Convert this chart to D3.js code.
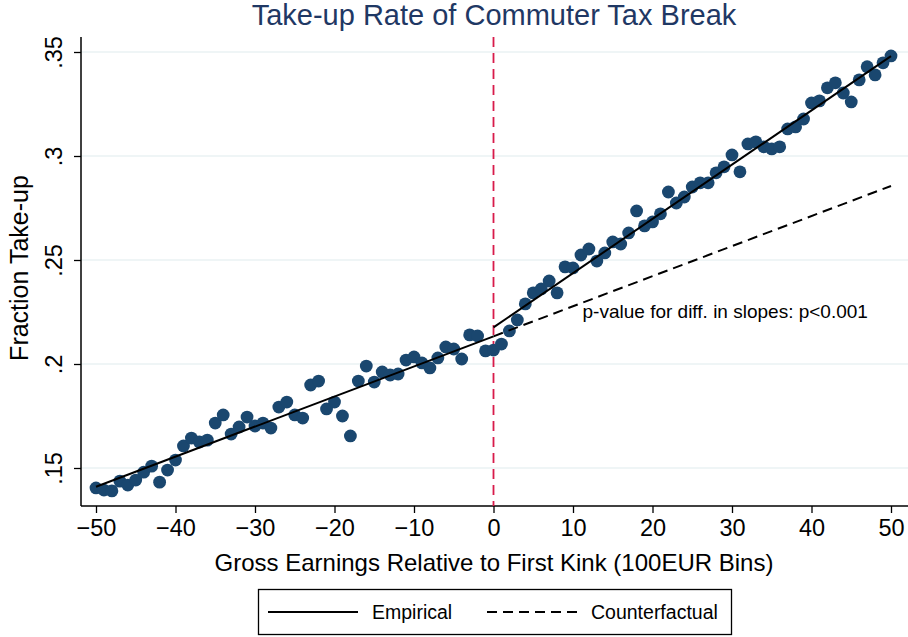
<!DOCTYPE html>
<html>
<head>
<meta charset="utf-8">
<script src="https://d3js.org/d3.v7.min.js"></script>
<style>
  body { margin: 0; background: #fff; }
  text { font-family: "Liberation Sans", Arial, sans-serif; }
</style>
</head>
<body>
<div id="viz"></div>
<script>
/* Take-up rate around the first kink, binned scatter with linear fits */

var bins = d3.range(-50, 51),
    takeup = [
      .1404, .1394, .1390, .1437, .1418, .1442, .1480, .1509, .1432, .1490,
      .1538, .1606, .1644, .1625, .1634, .1716, .1755, .1663, .1697, .1745,
      .1702, .1716, .1692, .1793, .1817, .1755, .1740, .1899, .1918, .1784,
      .1817, .1750, .1654, .1918, .1990, .1913, .1962, .1947, .1952, .2019,
      .2034, .2005, .1981, .2029, .2082, .2072, .2024, .2140, .2135, .2063,
      .2067, .2096, .2159, .2212, .2289, .2342, .2361, .2399, .2342, .2467,
      .2462, .2524, .2553, .2495, .2534, .2587, .2577, .2630, .2736, .2664,
      .2683, .2722, .2827, .2774, .2803, .2851, .2871, .2871, .2919, .2948,
      .3005, .2924, .3058, .3068, .3044, .3034, .3044, .3130, .3140, .3178,
      .3255, .3265, .3328, .3352, .3303, .3260, .3366, .3429, .3390, .3448,
      .3481
    ],
    fitLeft = [[-50, .1410], [0, .2133]],
    fitRight = [[0, .2176], [50, .3480]],
    counterfactual = [[0, .2133], [50, .2856]],
    xTicks = [-50, -40, -30, -20, -10, 0, 10, 20, 30, 40, 50],
    yTicks = [.15, .2, .25, .3, .35],
    legendKeys = ["Empirical", "Counterfactual"];

var width = 908, height = 637,
    plot = { left: 81, right: 908, top: 37, bottom: 506 };

var svg = d3.select("#viz").append("svg")
    .attr("width", width)
    .attr("height", height);

var x = d3.scaleLinear().domain([-50, 50]).range([96, 891]);
var y = d3.scaleLinear().domain([.15, .35]).range([468, 52]);

// grid
svg.append("g")
  .selectAll("line")
  .data(yTicks)
  .enter().append("line")
    .attr("x1", plot.left)
    .attr("x2", plot.right)
    .attr("y1", function(d) { return y(d); })
    .attr("y2", function(d) { return y(d); })
    .attr("stroke", "#eaf2f3")
    .attr("stroke-width", 1.5);

// title
svg.append("text")
  .attr("x", 494)
  .attr("y", 25)
  .attr("text-anchor", "middle")
  .attr("font-size", 29)
  .attr("fill", "#1f3864")
  .text("Take-up Rate of Commuter Tax Break");

// axes
var xAxis = svg.append("g")
  .attr("transform", "translate(0," + plot.bottom + ")")
  .call(d3.axisBottom(x).tickValues(xTicks).tickSize(7).tickSizeOuter(0));
xAxis.select(".domain").attr("d", "M" + plot.left + ",0H" + plot.right).attr("stroke-width", 1.5);
xAxis.selectAll(".tick line").attr("stroke-width", 1.3);
xAxis.selectAll(".tick text")
  .attr("font-size", 23.5)
  .attr("font-family", "Liberation Sans, Arial, sans-serif")
  .attr("y", 13);

var yAxis = svg.append("g")
  .attr("transform", "translate(" + plot.left + ",0)")
  .call(d3.axisLeft(y).tickValues(yTicks).tickSize(7).tickSizeOuter(0)
    .tickFormat(function(d) { return d3.format(".2~f")(d).replace(/^0/, ""); }));
yAxis.select(".domain").attr("d", "M0," + plot.top + "V" + plot.bottom).attr("stroke-width", 1.5);
yAxis.selectAll(".tick line").attr("stroke-width", 1.3);
yAxis.selectAll(".tick text")
  .attr("font-size", 23.5)
  .attr("font-family", "Liberation Sans, Arial, sans-serif")
  .attr("x", 0)
  .attr("dy", 0)
  .attr("text-anchor", "middle")
  .attr("transform", "translate(-19,0) rotate(-90)");

svg.append("text")
  .attr("x", 494)
  .attr("y", 571)
  .attr("text-anchor", "middle")
  .attr("font-size", 24)
  .text("Gross Earnings Relative to First Kink (100EUR Bins)");

svg.append("text")
  .attr("transform", "translate(28,268) rotate(-90)")
  .attr("text-anchor", "middle")
  .attr("font-size", 25)
  .text("Fraction Take-up");

// kink
svg.append("line")
  .attr("x1", x(0)).attr("x2", x(0))
  .attr("y1", plot.top).attr("y2", plot.bottom)
  .attr("stroke", "#d81b4a")
  .attr("stroke-width", 1.8)
  .attr("stroke-dasharray", "10,6");

// dots
svg.append("g")
  .selectAll("circle")
  .data(takeup)
  .enter().append("circle")
    .attr("cx", function(d, i) { return x(bins[i]); })
    .attr("cy", function(d) { return y(d); })
    .attr("r", 6.4)
    .attr("fill", "#1a476f");

// fits
var line = d3.line()
  .x(function(d) { return x(d[0]); })
  .y(function(d) { return y(d[1]); });

svg.append("path").attr("d", line(fitLeft))
  .attr("fill", "none").attr("stroke", "#000").attr("stroke-width", 2);
svg.append("path").attr("d", line(fitRight))
  .attr("fill", "none").attr("stroke", "#000").attr("stroke-width", 2);
svg.append("path").attr("d", line(counterfactual))
  .attr("fill", "none").attr("stroke", "#000").attr("stroke-width", 2)
  .attr("stroke-dasharray", "10,6");

svg.append("text")
  .attr("x", x(11.2))
  .attr("y", y(.2221))
  .attr("font-size", 19)
  .text("p-value for diff. in slopes: p<0.001");

// legend
var legend = svg.append("g");
legend.append("rect")
  .attr("x", 258.5).attr("y", 589.5)
  .attr("width", 473).attr("height", 45)
  .attr("fill", "#fff").attr("stroke", "#000").attr("stroke-width", 1.3);

var items = legend.selectAll("g.item")
  .data(legendKeys)
  .enter().append("g")
    .attr("transform", function(d, i) {
      return "translate(" + (i == 0 ? 268 : 487) + ",612)";
    });

items.append("line")
  .attr("x1", 0).attr("x2", 90)
  .attr("stroke", "#000").attr("stroke-width", 2)
  .attr("stroke-dasharray", function(d, i) { return i == 0 ? null : "10,6"; });

items.append("text")
  .attr("x", 104)
  .attr("dy", "0.35em")
  .attr("font-size", 19.5)
  .text(function(d) { return d; });
</script>
</body>
</html>
